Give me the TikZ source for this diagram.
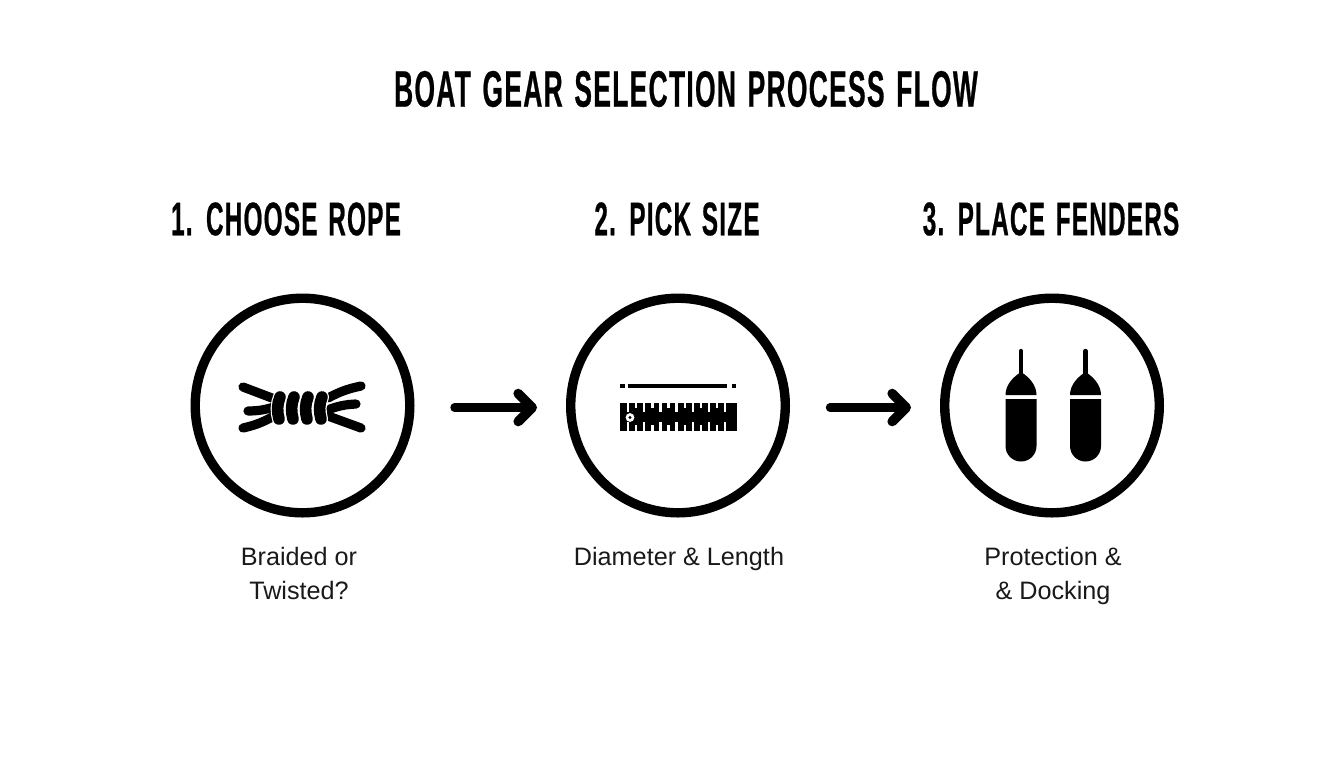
\documentclass[tikz,border=0pt]{standalone}
\usepackage{fontspec}
\usetikzlibrary{arrows.meta}
\setmainfont{Liberation Sans}
\newfontfamily\headfont[FakeStretch=0.515,FakeBold=0.5,LetterSpace=2.6,WordSpace=1.35]{Liberation Sans Bold}
\tikzset{
	stepcircle/.style={circle,draw=black,line width=4.7pt,minimum size=107.3pt,inner sep=0pt},
	flowarrow/.style={line width=4.2pt,line cap=round,-{Straight Barb[round,length=7pt,width=14pt,line width=4.8pt]}},
	titletext/.style={font=\headfont\fontsize{25.6}{30}\selectfont},
	headtext/.style={font=\headfont\fontsize{23.6}{28}\selectfont},
	bodytext/.style={font=\fontsize{12.6}{17}\selectfont,align=center,text=black!90},
	strand/.style={line width=4.6pt,line cap=round},
	coil/.style={line width=5.8pt,line cap=round},
	halo/.style={white,line width=7pt,line cap=round},
	slot/.style={white,line width=1.2pt}
}
\begin{document}
\begin{tikzpicture}[x=0.5pt,y=-0.5pt]
	\useasboundingbox (0,0) rectangle (1344,768);
	\node[titletext] (title) at (686,89) {BOAT GEAR SELECTION PROCESS FLOW};
	\node[headtext] (headrope) at (286,219) {1. CHOOSE ROPE};
	\node[headtext] (headsize) at (677,219) {2. PICK SIZE};
	\node[headtext] (headfend) at (1051,219) {3. PLACE FENDERS};
	\node[stepcircle] (rope) at (302.5,405.5) {};
	\node[stepcircle] (size) at (678,405.5) {};
	\node[stepcircle] (fend) at (1052,405.5) {};
	\draw[flowarrow,shorten <=20pt,shorten >=14.5pt] ([yshift=-1pt]rope.east) -- ([yshift=-1pt]size.west);
	\draw[flowarrow,shorten <=20pt,shorten >=14.5pt] ([yshift=-1pt]size.east) -- ([yshift=-1pt]fend.west);
	\node[bodytext] (textrope) at (299,573) {Braided or\\Twisted?};
	\node[bodytext] (textsize) at (679,559) {Diameter \& Length};
	\node[bodytext] (textfend) at (1053,576) {Protection \&\\\& Docking};
	% rope icon
	\foreach \xa/\ya/\xb/\yb/\bnd in {243/387/272/398/0,248/411/274/407/-8,243/428/274/416/-8,361/386/328/398/-8,356/404/330/409/-8,361/428/328/416/0}
		\draw[strand] (\xa,\ya) to[bend left=\bnd] (\xb,\yb);
	\foreach \xc in {279,293,307,321}{
		\draw[halo] (\xc+1,397) .. controls (\xc-2,404) and (\xc-2,412) .. (\xc,419);
		\draw[coil] (\xc+1,397) .. controls (\xc-2,404) and (\xc-2,412) .. (\xc,419);
	}
	% ruler icon
	\draw[line width=1.8pt] (628,386) -- (727,386);
	\draw[line width=1.8pt] (620,386) -- (625,386);
	\draw[line width=1.8pt] (732,386) -- (736,386);
	\fill (619.5,402.5) rectangle (736.5,431);
	\foreach \n in {0,...,12}{
		\pgfmathsetmacro{\xt}{628+8.1*\n}
		\pgfmathsetmacro{\yt}{isodd(\n) ? 408 : 412}
		\pgfmathsetmacro{\yu}{isodd(\n) ? 425 : 422}
		\draw[slot] (\xt,402) -- (\xt,\yt);
		\draw[slot] (\xt,431.5) -- (\xt,\yu);
	}
	\fill[white] (630,417.5) circle (2.2pt);
	\fill (630,417.5) circle (0.8pt);
	% fender icons
	\foreach \xf in {1021,1085.5}{
		\draw[line width=2.2pt,line cap=round] (\xf,351) -- (\xf,375);
		\fill (\xf-15.5,395) .. controls (\xf-15.5,385) and (\xf-8,377) .. (\xf,372) .. controls (\xf+8,377) and (\xf+15.5,385) .. (\xf+15.5,395) -- cycle;
		\fill (\xf-15.5,399) -- (\xf+15.5,399) -- (\xf+15.5,446) arc[start angle=0,end angle=-180,radius=7.75pt] -- cycle;
	}
\end{tikzpicture}
\end{document}
